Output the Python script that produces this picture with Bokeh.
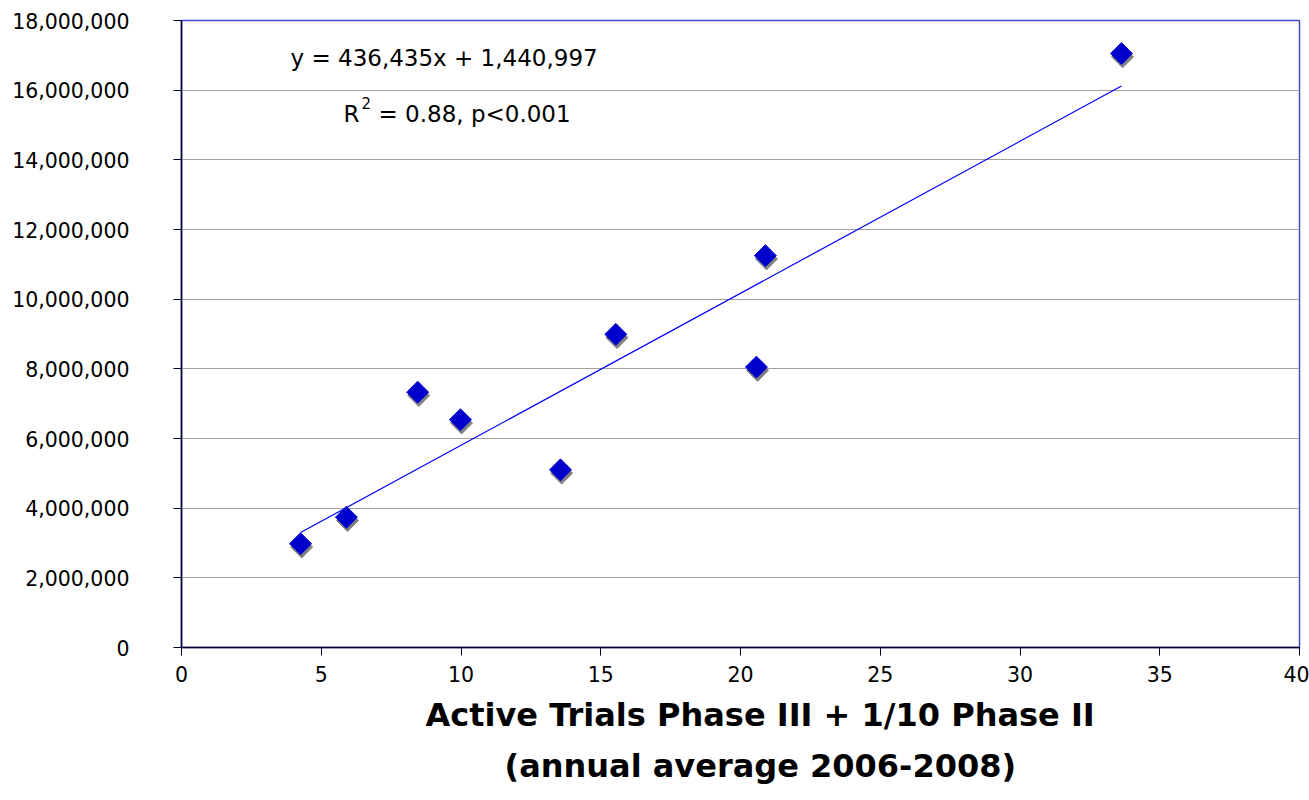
import numpy as np
from bokeh.plotting import figure
from bokeh.models import Range1d, FixedTicker, NumeralTickFormatter, Label, ColumnDataSource, Title
from bokeh.transform import dodge
from bokeh.embed import file_html
from bokeh.resources import INLINE

# Data
trials = [4.26, 5.90, 8.45, 9.98, 13.56, 15.54, 20.57, 20.89, 33.63]
spending = [2980000, 3740000, 7330000, 6540000, 5100000, 8990000, 8050000, 11250000, 17050000]
slope = 436435
intercept = 1440997
x_ticks = [0, 5, 10, 15, 20, 25, 30, 35, 40]
y_ticks = [0, 2000000, 4000000, 6000000, 8000000, 10000000, 12000000, 14000000, 16000000, 18000000]
eq_text = "y = 436,435x + 1,440,997"
r2_text = "= 0.88, p<0.001"
x_title_1 = "Active Trials Phase III + 1/10 Phase II"
x_title_2 = "(annual average 2006-2008)"

FONT = "DejaVu Sans"

p = figure(width=1309, height=800, output_backend="svg", toolbar_location=None,
           x_range=Range1d(0, 40), y_range=Range1d(0, 18000000),
           min_border_left=181, min_border_right=10, min_border_top=20, min_border_bottom=153)
p.background_fill_color = "white"
p.border_fill_color = "white"
p.outline_line_color = "#4848c8"
p.outline_line_width = 1.5

# axes
for ax in (p.xaxis[0], p.yaxis[0]):
    ax.axis_line_color = "#000033"
    ax.axis_line_width = 1.5
    ax.major_tick_line_color = "#000033"
    ax.major_tick_out = 8
    ax.major_tick_in = 0
    ax.minor_tick_line_color = None
    ax.major_label_text_font = FONT
    ax.major_label_text_font_size = "20.5px"
    ax.major_label_text_color = "black"
p.xaxis.ticker = FixedTicker(ticks=x_ticks)
p.yaxis.ticker = FixedTicker(ticks=y_ticks)
p.yaxis.formatter = NumeralTickFormatter(format="0,0")
p.yaxis.major_label_standoff = 44
p.xaxis.major_label_standoff = 10

p.xgrid.visible = False
p.ygrid.grid_line_color = "#a0a0a0"
p.ygrid.grid_line_width = 1.2

src = ColumnDataSource(dict(x=trials, y=spending))

# trend line
xs = np.array([min(trials), max(trials)])
p.line(xs, slope * xs + intercept, line_color="#0000ff", line_width=1.2)

# shadow markers
p.scatter(x=dodge("x", 0.04, range=p.x_range), y=dodge("y", -95000, range=p.y_range),
          source=src, marker="square", angle=np.pi / 4, size=15.5,
          fill_color="#808080", line_color="#808080")
p.scatter(x="x", y="y", source=src, marker="square", angle=np.pi / 4, size=15.5,
          fill_color="#0000cc", line_color="#0000cc")

# annotations (data units)
def px_x(px):
    return (px - 181) / (1299 - 181) * 40

def px_y(py):
    return (647 - py) / (647 - 20) * 18000000

p.add_layout(Label(x=px_x(290), y=px_y(57), text=eq_text, text_font=FONT, text_font_size="23px",
                   text_baseline="middle", text_align="left", text_color="black"))
p.add_layout(Label(x=px_x(343), y=px_y(113), text="R", text_font=FONT, text_font_size="23px",
                   text_baseline="middle", text_align="left", text_color="black"))
p.add_layout(Label(x=px_x(361), y=px_y(102), text="2", text_font=FONT, text_font_size="15px",
                   text_baseline="middle", text_align="left", text_color="black"))
p.add_layout(Label(x=px_x(378), y=px_y(113), text=r2_text, text_font=FONT, text_font_size="23px",
                   text_baseline="middle", text_align="left", text_color="black"))

# two-line x axis title
t1 = Title(text=x_title_1, text_font=FONT, text_font_size="32px", text_font_style="bold",
           align="left", offset=244, text_color="black", standoff=19)
t2 = Title(text=x_title_2, text_font=FONT, text_font_size="32px", text_font_style="bold",
           align="left", offset=323, text_color="black", standoff=3)
p.add_layout(t1, "below")
p.add_layout(t2, "below")

open("out.html", "w").write(file_html(p, INLINE))
